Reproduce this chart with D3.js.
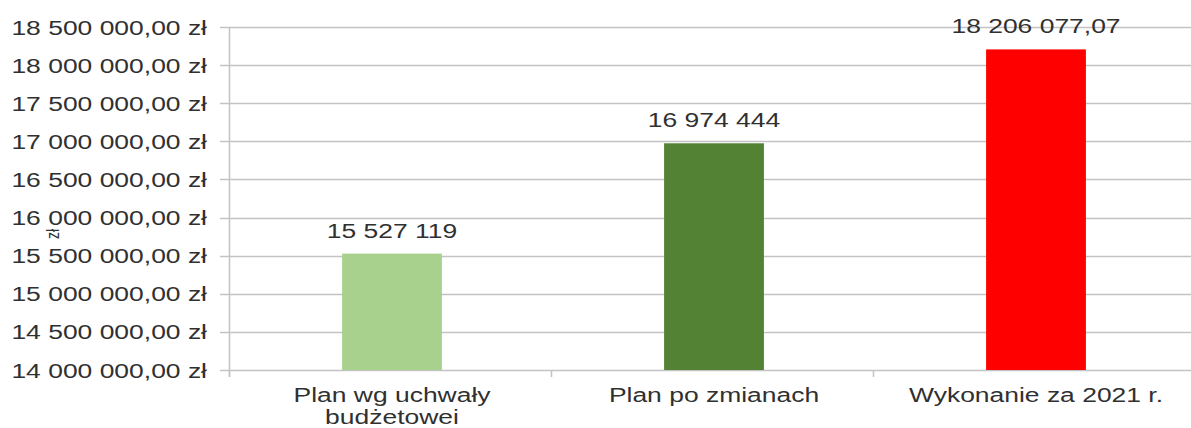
<!DOCTYPE html>
<html><head><meta charset="utf-8">
<script src="https://cdn.jsdelivr.net/npm/d3@7"></script>
<style>
html,body{margin:0;padding:0;background:#fff;}
text{font-family:"Liberation Sans",Arial,sans-serif;fill:#303030;}
</style></head>
<body><svg id="c" width="1191" height="428"></svg>
<script>
const categories = [["Plan wg uchwały","budżetowei"],["Plan po zmianach"],["Wykonanie za 2021 r."]];
const values = [15527119, 16974444, 18206077.07];
const colors = ["#a9d18e","#548235","#ff0000"];
const yTicks = [14000000,14500000,15000000,15500000,16000000,16500000,17000000,17500000,18000000,18500000];
const axisTitle = "zł";

const SX = 1.26; // horizontal stretch of the reference text
const svg = d3.select("#c");
const loc = d3.formatLocale({decimal:",", thousands:"\u00a0", grouping:[3], currency:["",""]});
const fTick = v => loc.format(",.2f")(v).replace(/\u00a0/g," ") + " zł";
const fLab = v => (Number.isInteger(v) ? loc.format(",d")(v) : loc.format(",.2f")(v)).replace(/\u00a0/g," ");

const x = d3.scaleBand().domain(d3.range(categories.length)).range([231, 1197]).paddingInner(0.69).paddingOuter(0.345);
const y = d3.scaleLinear().domain([14000000, 18500000]).range([370, 27]);
const grid = "#c3c3c3";

// gridlines
svg.append("g").selectAll("line").data(yTicks).join("line")
  .attr("x1", 220).attr("x2", 1191)
  .attr("y1", d => Math.round(y(d))+0.5).attr("y2", d => Math.round(y(d))+0.5)
  .attr("stroke", grid).attr("stroke-width", 1.5);
// y axis line
svg.append("line").attr("x1",229.5).attr("x2",229.5).attr("y1",y(18500000)).attr("y2",377).attr("stroke",grid).attr("stroke-width",1.5);
// category ticks
const step = x.step();
svg.append("g").selectAll("line").data(d3.range(categories.length+1)).join("line")
  .attr("x1", i => 229.5 + i*step).attr("x2", i => 229.5 + i*step)
  .attr("y1", 370).attr("y2", 377).attr("stroke", grid).attr("stroke-width",1.5);

// y tick labels
svg.append("g").selectAll("text").data(yTicks).join("text")
  .attr("transform", d => `translate(207,${y(d)}) scale(${SX},1)`).attr("dy","0.36em")
  .attr("text-anchor","end").style("font-size","21px").text(fTick);

// bars
svg.append("g").selectAll("rect").data(values).join("rect")
  .attr("x", (d,i) => x(i)).attr("width", x.bandwidth())
  .attr("y", d => y(d)).attr("height", d => y(14000000) - y(d))
  .attr("fill", (d,i) => colors[i]);

// value labels
svg.append("g").selectAll("text").data(values).join("text")
  .attr("transform", (d,i) => `translate(${x(i) + x.bandwidth()/2},${y(d) - 16}) scale(${SX},1)`)
  .attr("text-anchor","middle").style("font-size","21px").text(fLab);

// category labels
const cl = svg.append("g").selectAll("text").data(categories).join("text")
  .attr("transform", (d,i) => `translate(${x(i) + x.bandwidth()/2},402) scale(${SX},1)`)
  .attr("text-anchor","middle").style("font-size","21px");
cl.selectAll("tspan").data(d => d).join("tspan")
  .attr("x", 0).attr("dy", (d,i) => i ? 22 : 0).text(d => d);

// axis title
svg.append("text").attr("transform",`translate(59,234) scale(${SX},1) rotate(-90)`)
  .attr("text-anchor","middle").style("font-size","14px").text(axisTitle);
</script></body></html>
